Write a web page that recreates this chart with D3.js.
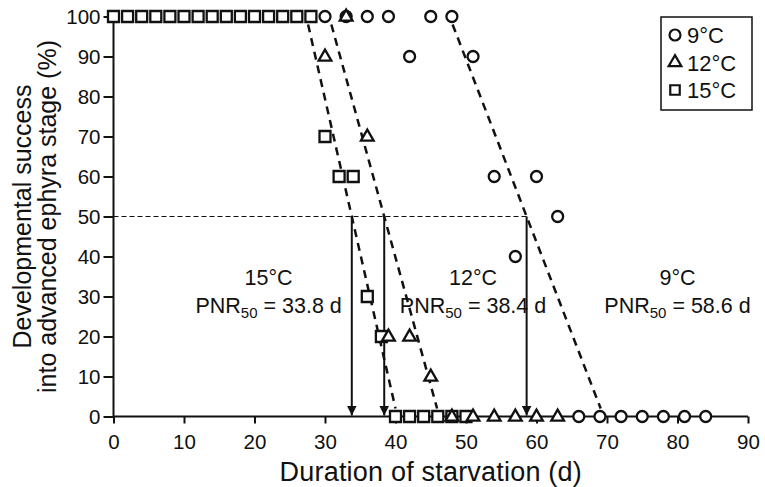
<!DOCTYPE html>
<html>
<head>
<meta charset="utf-8">
<script src="https://cdn.jsdelivr.net/npm/d3@7"></script>
<style>
  body { margin: 0; background: #fff; }
  svg text { font-family: "Liberation Sans", Arial, Helvetica, sans-serif; fill: #111; }
</style>
</head>
<body>
<div id="chart"></div>
<script>
  // 15°C (squares), sampled every 2 d
  var diasC15 = [0, 2, 4, 6, 8, 10, 12, 14, 16, 18, 20, 22, 24, 26, 28, 30, 32, 34, 36, 38, 40, 42, 44, 46, 48, 50]
  var exitoC15 = [100, 100, 100, 100, 100, 100, 100, 100, 100, 100, 100, 100, 100, 100, 100, 70, 60, 60, 30, 20, 0, 0, 0, 0, 0, 0]
  // 12°C (triangles), every 3 d
  var diasC12 = [30, 33, 36, 39, 42, 45, 48, 51, 54, 57, 60, 63]
  var exitoC12 = [90, 100, 70, 20, 20, 10, 0, 0, 0, 0, 0, 0]
  // 9°C (circles), every 3 d
  var diasC9 = [30, 33, 36, 39, 42, 45, 48, 51, 54, 57, 60, 63, 66, 69, 72, 75, 78, 81, 84]
  var exitoC9 = [100, 100, 100, 100, 90, 100, 100, 90, 60, 40, 60, 50, 0, 0, 0, 0, 0, 0, 0]

  // regresiones: dia en 100 % y en 0 %, y PNR50
  var temperaturas = ["9°C", "12°C", "15°C"]
  var pnr50 = [58.6, 38.4, 33.8]
  var ajusteX100 = [48.1, 30.9, 27.6]
  var ajusteX0 = [69.1, 45.9, 40.0]
  var etiquetaX = [80, 51, 22]

  var ticksX = d3.range(0, 91, 10)
  var ticksY = d3.range(0, 101, 10)

  var width = 765,
      height = 487;

  var x = d3.scaleLinear().domain([0, 90]).range([113.5, 748]);
  var y = d3.scaleLinear().domain([0, 100]).range([416.5, 16.5]);

  var svg = d3.select("#chart").append("svg")
      .attr("width", width)
      .attr("height", height);

  // linea 50 %
  svg.append("line")
      .attr("x1", x(0)).attr("x2", x(pnr50[0]))
      .attr("y1", y(50)).attr("y2", y(50))
      .attr("stroke", "#111").attr("stroke-width", 1.2)
      .attr("stroke-dasharray", "5,3");

  // flechas PNR50
  svg.append("defs").append("marker")
      .attr("id", "flecha")
      .attr("viewBox", "0 0 10 10")
      .attr("refX", 10).attr("refY", 5)
      .attr("markerWidth", 10).attr("markerHeight", 10)
      .attr("markerUnits", "userSpaceOnUse")
      .attr("orient", "auto")
      .append("path")
      .attr("d", "M0,0 L10,5 L0,10 z")
      .attr("fill", "#111");

  svg.selectAll(".flecha").data(pnr50).enter().append("line")
      .attr("class", "flecha")
      .attr("x1", function (d) { return x(d); })
      .attr("x2", function (d) { return x(d); })
      .attr("y1", y(50))
      .attr("y2", y(0) - 1)
      .attr("stroke", "#111").attr("stroke-width", 2)
      .attr("marker-end", "url(#flecha)");

  // rectas de ajuste
  svg.selectAll(".ajuste").data(d3.range(3)).enter().append("line")
      .attr("class", "ajuste")
      .attr("x1", function (i) { return x(ajusteX100[i]); })
      .attr("y1", y(98))
      .attr("x2", function (i) { return x(ajusteX0[i]); })
      .attr("y2", y(2))
      .attr("stroke", "#111").attr("stroke-width", 2.5)
      .attr("stroke-dasharray", "8,6");

  // ejes
  var ejeX = svg.append("g")
      .attr("transform", "translate(0," + y(0) + ")")
      .call(d3.axisBottom(x).tickValues(ticksX).tickSize(7).tickSizeOuter(0).tickPadding(11));
  var ejeY = svg.append("g")
      .attr("transform", "translate(" + x(0) + ",0)")
      .call(d3.axisLeft(y).tickValues(ticksY).tickSize(10).tickSizeOuter(0).tickPadding(3));

  [ejeX, ejeY].forEach(function (g) {
      g.selectAll("path, line").attr("stroke", "#111").attr("stroke-width", 2);
      g.selectAll("text").style("font-size", "20.5px").attr("fill", "#111");
  });
  ejeX.select(".domain").attr("d", "M" + x(0) + ",0H" + x(90));
  ejeY.select(".domain").attr("d", "M0," + y(0) + "V" + y(100));

  // simbolos
  var simCuadrado = d3.symbol().type(d3.symbolSquare).size(121);
  var simTriangulo = d3.symbol().type(d3.symbolTriangle).size(70);
  var simCirculo = d3.symbol().type(d3.symbolCircle).size(Math.PI * 30);

  function pintaSerie(dias, valores, simbolo, dy) {
      svg.append("g").selectAll("path")
          .data(dias.map(function (d, i) { return [d, valores[i]]; }))
          .enter().append("path")
          .attr("d", simbolo)
          .attr("transform", function (d) { return "translate(" + x(d[0]) + "," + (y(d[1]) + dy) + ")"; })
          .attr("fill", "#fff")
          .attr("stroke", "#111")
          .attr("stroke-width", 2.3);
  }

  pintaSerie(diasC15, exitoC15, simCuadrado, 0);
  pintaSerie(diasC9, exitoC9, simCirculo, 0);
  pintaSerie(diasC12, exitoC12, simTriangulo, 0.5);

  // textos PNR50
  var anot = svg.append("g");
  temperaturas.forEach(function (t, i) {
      anot.append("text")
          .attr("x", x(etiquetaX[i]))
          .attr("y", 285)
          .attr("text-anchor", "middle")
          .style("font-size", "21.5px")
          .text(t);
      var txt = anot.append("text")
          .attr("x", x(etiquetaX[i]))
          .attr("y", 313)
          .attr("text-anchor", "middle")
          .style("font-size", "21.5px");
      txt.append("tspan").text("PNR");
      txt.append("tspan").attr("dy", 5).style("font-size", "15px").text("50");
      txt.append("tspan").attr("dy", -5).text(" = " + pnr50[i].toFixed(1) + " d");
  });

  // leyenda
  var leyenda = svg.append("g").attr("transform", "translate(661,17)");
  leyenda.append("rect")
      .attr("width", 91).attr("height", 93)
      .attr("fill", "#fff").attr("stroke", "#111").attr("stroke-width", 1.5);
  var simbolosLey = [simCirculo, simTriangulo, simCuadrado];
  temperaturas.forEach(function (t, i) {
      var fila = leyenda.append("g").attr("transform", "translate(14," + (18 + i * 27.5) + ")");
      fila.append("path")
          .attr("d", i == 2 ? d3.symbol().type(d3.symbolSquare).size(90)() : simbolosLey[i]())
          .attr("fill", "#fff").attr("stroke", "#111").attr("stroke-width", 2.2);
      fila.append("text")
          .attr("x", 12).attr("y", 8)
          .style("font-size", "22px")
          .text(t);
  });

  // titulos de ejes
  svg.append("text")
      .attr("x", x(45)).attr("y", 481)
      .attr("text-anchor", "middle")
      .style("font-size", "27px")
      .style("letter-spacing", "0.2px")
      .text("Duration of starvation (d)");

  var tituloY = svg.append("text")
      .attr("transform", "translate(0," + y(50) + ") rotate(-90)")
      .attr("text-anchor", "middle")
      .style("font-size", "25px");
  tituloY.append("tspan").attr("x", 0).attr("y", 31).text("Developmental success");
  tituloY.append("tspan").attr("x", 0).attr("y", 56).text("into advanced ephyra stage (%)");
</script>
</body>
</html>
